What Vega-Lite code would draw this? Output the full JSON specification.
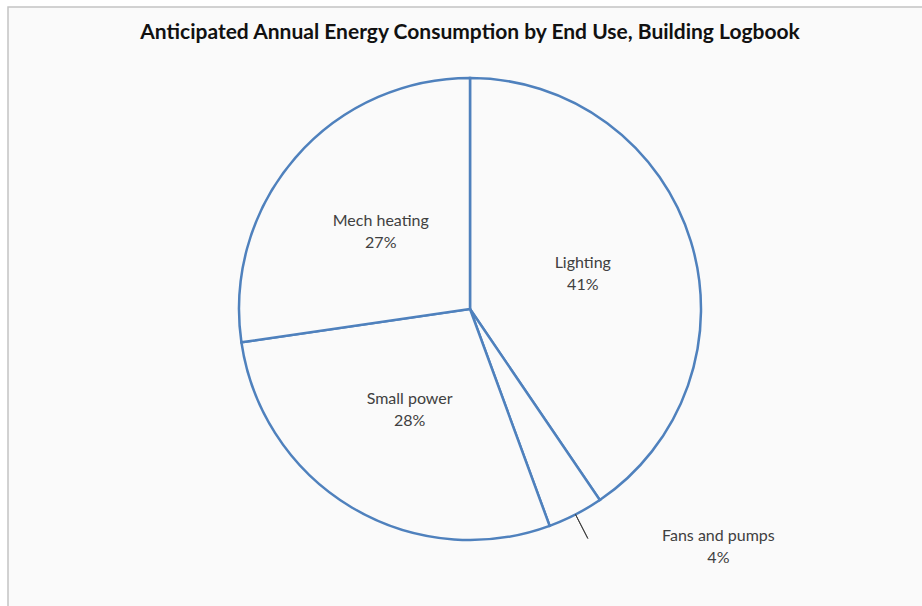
{
  "$schema": "https://vega.github.io/schema/vega-lite/v6.json",
  "width": 924,
  "height": 604,
  "autosize": {"type": "none"},
  "padding": {"left": 8, "top": 7, "right": 0, "bottom": 0},
  "background": "#ffffff",
  "view": {"fill": "#fafafa", "stroke": "#c4c4c4", "strokeWidth": 1.5},
  "title": {
    "text": "Anticipated Annual Energy Consumption by End Use, Building Logbook",
    "font": "Lato",
    "fontSize": 21,
    "fontWeight": "bold",
    "color": "#111111",
    "anchor": "middle",
    "frame": "group",
    "offset": 0,
    "baseline": "alphabetic",
    "dy": 53
  },
  "datasets": {
    "uses": [
      {"name": "Lighting", "value": 40.5, "order": 1, "inner": "Lighting\n41%", "outer": ""},
      {"name": "Fans and pumps", "value": 3.9, "order": 2, "inner": "", "outer": "Fans and pumps\n4%"},
      {"name": "Small power", "value": 28.3, "order": 3, "inner": "Small power\n28%", "outer": ""},
      {"name": "Mech heating", "value": 27.3, "order": 4, "inner": "Mech heating\n27%", "outer": ""}
    ],
    "leader": [{"t": 42.45}]
  },
  "data": {"name": "uses"},
  "layer": [
    {
      "mark": {"type": "arc", "outerRadius": 231, "fill": "#fafafa", "stroke": "#4F81BD", "strokeWidth": 2.5},
      "encoding": {
        "theta": {"field": "value", "type": "quantitative", "stack": true, "scale": {"domain": [0, 100]}},
        "order": {"field": "order", "type": "quantitative"},
        "detail": {"field": "name"}
      }
    },
    {
      "data": {"name": "leader"},
      "mark": {"type": "arc", "radius": 258, "radius2": 231, "fill": null, "stroke": "#404040", "strokeWidth": 1},
      "encoding": {
        "theta": {"field": "t", "type": "quantitative", "stack": null},
        "theta2": {"field": "t"}
      }
    },
    {
      "mark": {"type": "text", "radius": 118, "dy": -11, "font": "Lato", "fontSize": 16, "color": "#404040", "align": "center", "baseline": "middle", "lineBreak": "\n", "lineHeight": 22},
      "encoding": {
        "theta": {"field": "value", "type": "quantitative", "stack": true},
        "order": {"field": "order", "type": "quantitative"},
        "detail": {"field": "name"},
        "text": {"field": "inner"}
      }
    },
    {
      "mark": {"type": "text", "radius": 268, "dx": 126, "dy": -11, "font": "Lato", "fontSize": 16, "color": "#404040", "align": "center", "baseline": "middle", "lineBreak": "\n", "lineHeight": 22},
      "encoding": {
        "theta": {"field": "value", "type": "quantitative", "stack": true},
        "order": {"field": "order", "type": "quantitative"},
        "detail": {"field": "name"},
        "text": {"field": "outer"}
      }
    }
  ]
}
